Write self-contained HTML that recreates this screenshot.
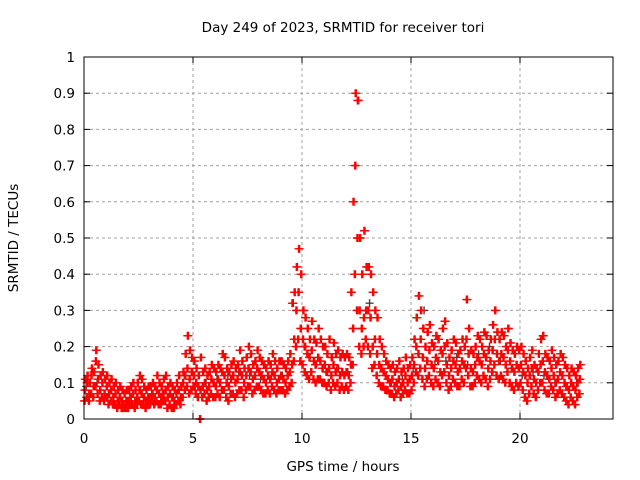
<!DOCTYPE html>
<html><head><meta charset="utf-8"><style>
body{margin:0;background:#fff}
svg{display:block;font-family:"DejaVu Sans","Liberation Sans",sans-serif}
</style></head><body>
<svg id="chart" width="640" height="480">
<text x="343" y="32" text-anchor="middle" font-size="13.5">Day 249 of 2023, SRMTID for receiver tori</text>
<text x="18" y="238" text-anchor="middle" font-size="13.5" transform="rotate(-90 18 238)">SRMTID / TECUs</text>
<text x="343" y="471" text-anchor="middle" font-size="13.5">GPS time / hours</text>
<g id="grid"></g>
<g id="ticks"></g>
<g id="marks"></g>
<rect x="84" y="57" width="529" height="362" fill="none" stroke="#000"/>
</svg>
<script>
const xTicks=[0,5,10,15,20];
const yTicks=[0,0.1,0.2,0.3,0.4,0.5,0.6,0.7,0.8,0.9,1];
const yTickLabels=["0","0.1","0.2","0.3","0.4","0.5","0.6","0.7","0.8","0.9","1"];
const redStep=0.1;
const redMid=[.08,.10,.07,.12,.09,.16,.11,.08,.10,.07,.09,.07,.08,.06,.07,.05,.06,.05,.04,.05,.05,.06,.07,.05,.06,.08,.07,.06,.05,.06,.06,.07,.06,.08,.07,.06,.07,.08,.06,.07,.06,.05,.07,.08,.06,.10,.12,.14,.11,.13,.12,.10,.09,.08,.09,.10,.08,.09,.11,.10,.09,.11,.10,.13,.12,.10,.09,.11,.12,.10,.11,.13,.12,.10,.12,.14,.13,.11,.12,.14,.13,.12,.11,.10,.12,.11,.13,.12,.10,.11,.12,.11,.10,.12,.13,.15,.22,.30,.35,.25,.22,.20,.18,.17,.19,.16,.15,.17,.16,.14,.15,.13,.14,.12,.15,.13,.14,.12,.13,.12,.13,.12,.15,.25,.70,.50,.30,.25,.28,.30,.30,.28,.20,.22,.18,.15,.14,.13,.12,.11,.10,.11,.09,.10,.11,.09,.10,.12,.10,.11,.12,.15,.20,.18,.22,.17,.14,.16,.19,.15,.14,.17,.16,.13,.18,.20,.15,.12,.14,.16,.15,.13,.14,.16,.15,.22,.18,.14,.13,.15,.17,.16,.15,.18,.17,.14,.16,.19,.22,.18,.16,.18,.17,.15,.19,.16,.14,.13,.15,.14,.15,.13,.12,.10,.12,.14,.11,.10,.13,.15,.16,.13,.12,.11,.14,.12,.10,.11,.13,.12,.10,.09,.08,.10,.09,.08,.10,.11];
const redHigh=[.11,.12,.10,.14,.13,.19,.15,.12,.13,.11,.12,.10,.11,.09,.10,.08,.09,.08,.07,.08,.08,.09,.10,.08,.10,.12,.11,.09,.08,.09,.09,.10,.09,.12,.10,.09,.11,.12,.09,.10,.09,.08,.10,.12,.09,.13,.18,.23,.19,.17,.16,.14,.12,.17,.13,.14,.12,.13,.15,.14,.13,.15,.14,.18,.17,.14,.13,.15,.16,.14,.15,.19,.16,.14,.17,.20,.18,.15,.16,.19,.17,.16,.15,.14,.16,.15,.18,.16,.14,.16,.16,.15,.14,.16,.18,.32,.35,.42,.47,.40,.30,.28,.25,.22,.27,.22,.21,.25,.22,.20,.20,.18,.22,.17,.21,.18,.19,.17,.18,.17,.18,.17,.35,.60,.90,.88,.50,.40,.52,.42,.42,.40,.35,.30,.28,.22,.20,.18,.16,.15,.14,.15,.13,.14,.16,.13,.14,.17,.14,.15,.17,.22,.28,.34,.30,.25,.20,.24,.26,.21,.20,.23,.22,.19,.25,.27,.21,.17,.19,.22,.21,.18,.19,.22,.20,.33,.25,.19,.18,.20,.23,.22,.20,.24,.23,.19,.22,.26,.30,.24,.22,.24,.23,.20,.25,.21,.19,.18,.20,.19,.20,.18,.16,.14,.17,.19,.15,.14,.18,.22,.23,.18,.17,.16,.19,.17,.15,.16,.18,.17,.15,.14,.12,.14,.13,.12,.14,.15];
const redLow=[.05,.06,.05,.07,.06,.09,.07,.05,.06,.05,.06,.04,.05,.04,.04,.03,.04,.03,.03,.03,.03,.04,.04,.03,.04,.05,.04,.04,.03,.04,.04,.05,.04,.05,.04,.04,.05,.05,.03,.04,.03,.03,.04,.05,.04,.06,.08,.09,.07,.08,.09,.07,.06,.00,.06,.07,.05,.06,.07,.06,.06,.07,.06,.08,.08,.06,.05,.07,.07,.06,.07,.08,.08,.06,.08,.09,.09,.07,.08,.09,.09,.08,.07,.07,.08,.07,.09,.08,.07,.08,.08,.08,.07,.08,.09,.10,.16,.20,.22,.16,.15,.13,.12,.11,.13,.11,.10,.11,.11,.10,.10,.09,.10,.08,.10,.09,.10,.08,.09,.08,.09,.08,.10,.15,.40,.30,.20,.18,.20,.22,.20,.18,.14,.15,.12,.10,.09,.09,.08,.08,.07,.07,.06,.07,.08,.06,.07,.08,.07,.07,.08,.10,.13,.12,.14,.11,.09,.11,.12,.10,.09,.11,.10,.09,.12,.13,.10,.08,.09,.11,.10,.09,.09,.11,.10,.14,.12,.09,.09,.10,.12,.11,.10,.12,.11,.09,.11,.13,.15,.12,.11,.12,.11,.10,.13,.10,.09,.08,.10,.09,.10,.08,.06,.05,.07,.09,.07,.06,.08,.10,.10,.08,.07,.07,.09,.08,.06,.07,.08,.07,.06,.05,.04,.06,.05,.04,.06,.07];
const grayStep=0.5;
const grayVals=[.09,.10,.06,.05,.07,.08,.07,.07,.06,.12,.09,.10,.11,.12,.13,.12,.11,.12,.12,.32,.20,.15,.13,.14,.13,.88,.32,.14,.10,.11,.14,.30,.15,.16,.17,.15,.18,.20,.16,.14,.12,.13,.12,.10,.09,.10];

const X0=84,X1=613,Y0=419,Y1=57,XMAX=(613-84)/21.8;
const xs=v=>X0+v/XMAX*(X1-X0);
const ys=v=>Y0-v*(Y0-Y1);
const NS="http://www.w3.org/2000/svg";
const mk=(t,a,p)=>{const e=document.createElementNS(NS,t);for(const k in a)e.setAttribute(k,a[k]);p.appendChild(e);return e;};
const grid=document.getElementById('grid'),ticks=document.getElementById('ticks'),marks=document.getElementById('marks');
yTicks.forEach((v,i)=>{
  const y=ys(v);
  if(v>0&&v<1){const g=mk('line',{x1:X0,x2:X1,y1:y,y2:y,stroke:'#a0a0a0','stroke-dasharray':'3,3'},grid);
  
  }
  mk('line',{x1:X0,x2:X0+6,y1:y,y2:y,stroke:'#000'},ticks);
  mk('line',{x1:X1,x2:X1-6,y1:y,y2:y,stroke:'#000'},ticks);
  const t=mk('text',{x:X0-9,y:y+5,'text-anchor':'end','font-size':13.5},ticks);
  t.textContent=yTickLabels[i];
  
  
});
xTicks.forEach(v=>{
  const x=xs(v);
  if(v>0){const g=mk('line',{x1:x,x2:x,y1:Y0,y2:Y1,stroke:'#a0a0a0','stroke-dasharray':'3,3'},grid);
  
  }
  mk('line',{x1:x,x2:x,y1:Y0,y2:Y0-6,stroke:'#000'},ticks);
  mk('line',{x1:x,x2:x,y1:Y1,y2:Y1+6,stroke:'#000'},ticks);
  const t=mk('text',{x:x,y:Y0+24,'text-anchor':'middle','font-size':13.5},ticks);
  t.textContent=String(v);
  
  
});
function plus(t,v,color,name){
  const x=xs(t),y=ys(v);
  const p=mk('path',{d:`M${x-4},${y}h8M${x},${y-4}v8`,stroke:color,'stroke-width':1.4,fill:'none'},marks);
  
  
}
grayVals.forEach((v,i)=>plus(i*grayStep+0.1,v,'#404040','gray-point'));
[redLow,redMid,redHigh].forEach((arr,k)=>arr.forEach((v,i)=>{
  plus(i*redStep+k*0.02,v,'#ff0000','red-point');
  plus(i*redStep+0.05+k*0.02,v,'#ff0000','red-point');
}));
</script>
</body></html>
